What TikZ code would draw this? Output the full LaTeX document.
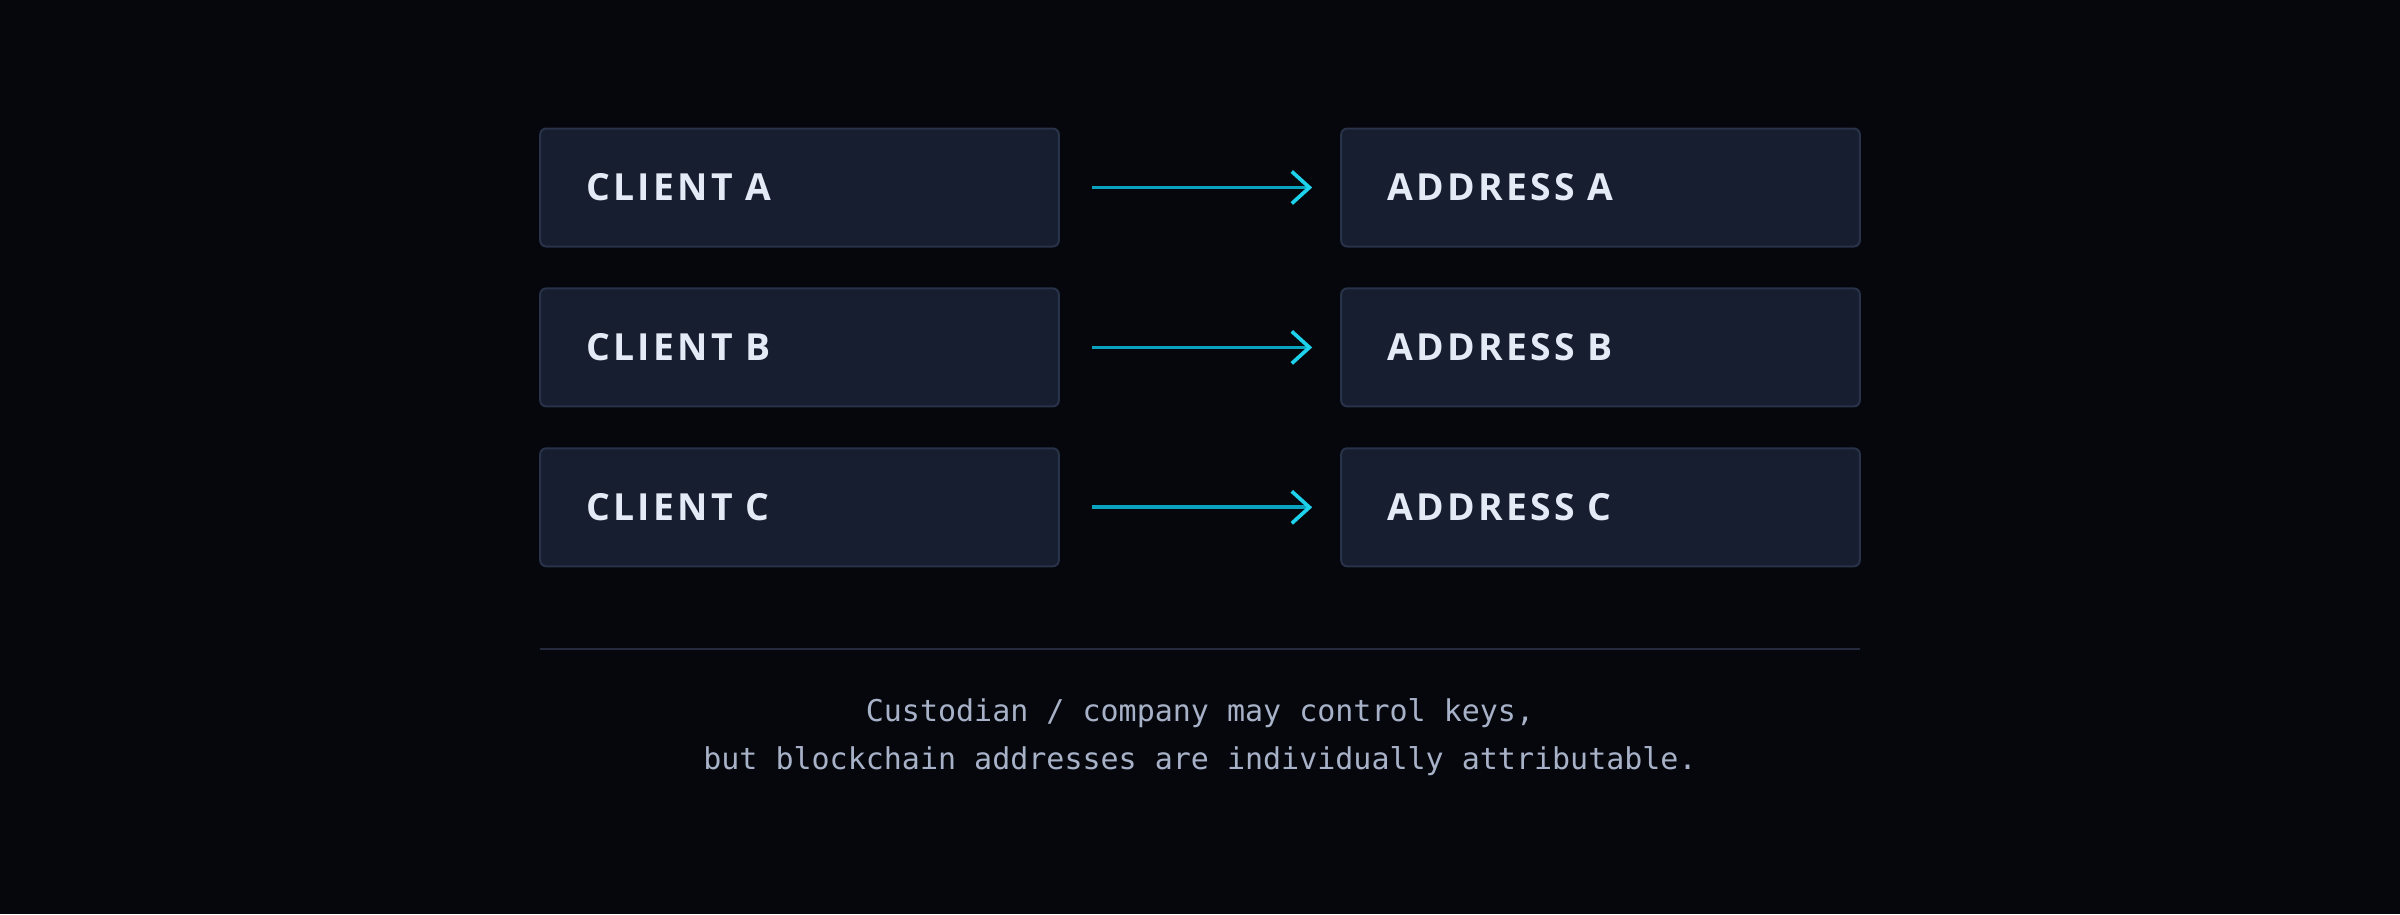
\documentclass[tikz,border=0pt]{standalone}
\usepackage{fontspec}
\usetikzlibrary{arrows.meta}
\newfontfamily\boxfont[LetterSpace=9]{Open Sans}
\setmonofont{DejaVu Sans Mono}
\definecolor{bgdark}{HTML}{05070C}
\definecolor{boxfill}{HTML}{161E2F}
\definecolor{boxline}{HTML}{283249}
\definecolor{boxtext}{HTML}{E4EAF6}
\definecolor{arrowline}{HTML}{0AA3BF}
\definecolor{arrowhead}{HTML}{1ED2EC}
\definecolor{ruleline}{HTML}{252A3E}
\definecolor{notetext}{HTML}{A7B1C8}

\begin{document}
\begin{tikzpicture}[x=0.3pt,y=-0.3pt,
    entity/.style={draw=boxline,fill=boxfill,line width=0.6pt,rounded corners=1.8pt,
        text=boxtext,font=\boxfont\bfseries\fontsize{11.2}{14}\selectfont,
        text width=128pt,align=left,inner xsep=13.8pt,inner ysep=0pt,minimum height=35.4pt},
    maps/.style={draw=arrowline,line width=1.1pt,
        -{Straight Barb[length=5.3pt,width=9.6pt,line width=1.1pt,color=arrowhead]},
        shorten <=9.6pt,shorten >=8.4pt}]
\fill[bgdark] (0,0) rectangle (2400,914);
\useasboundingbox (0,0) rectangle (2400,914);
       \node [entity] at (799.5,187.5) (client a) {CLIENT A};
          \node [entity] at (799.5,347.4) (client b) {CLIENT B};
             \node [entity] at (799.5,507.3) (client c) {CLIENT C};
       \node [entity] at (1600.5,187.5) (address a) {ADDRESS A};
          \node [entity] at (1600.5,347.4) (address b) {ADDRESS B};
             \node [entity] at (1600.5,507.3) (address c) {ADDRESS C};
%
\path[maps] (client a) edge (address a);
\path[maps] (client b) edge (address b);
\path[maps] (client c) edge (address c);
%
\draw[ruleline,line width=0.6pt] (540,649) -- (1860,649);
\node [text=notetext,font=\ttfamily\fontsize{9}{14.4}\selectfont,align=center] at (1200,737) (note)
    {Custodian / company may control keys,\\but blockchain addresses are individually attributable.};

\end{tikzpicture}
\end{document}
